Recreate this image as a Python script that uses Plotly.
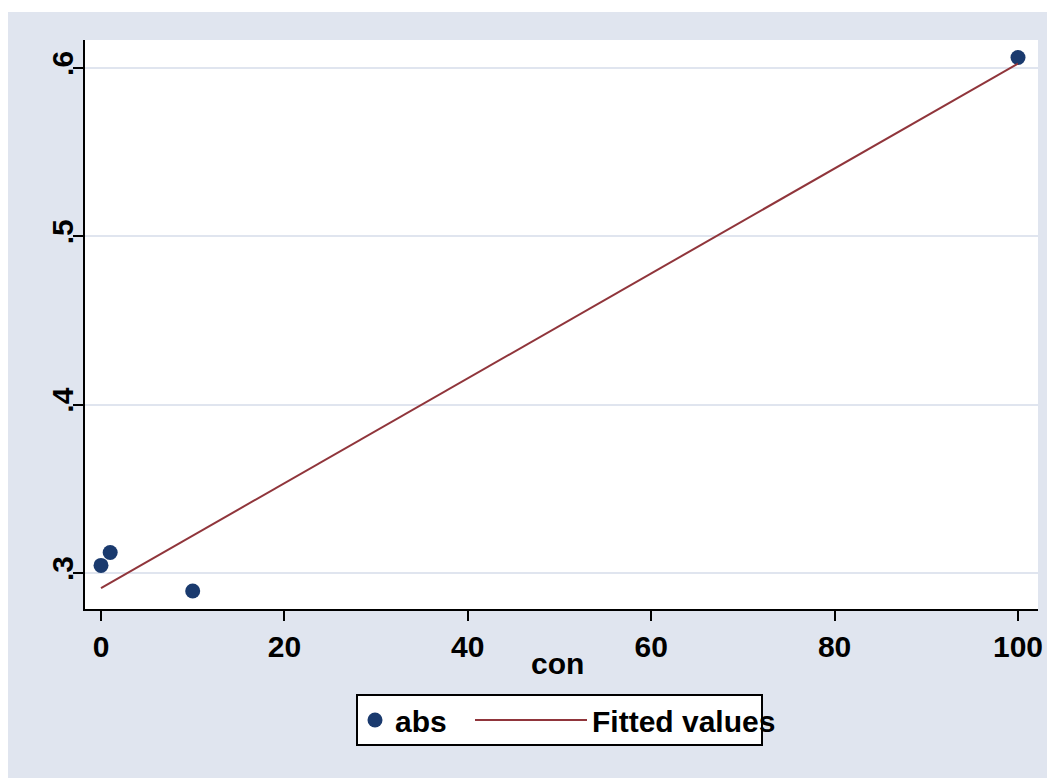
import plotly.graph_objects as go

# Data
con = [0, 1, 10, 100]
absorb = [0.3045, 0.3122, 0.2893, 0.6062]
fit_x = [0, 100]
fit_y = [0.2910, 0.6026]
x_ticks = [0, 20, 40, 60, 80, 100]
y_ticks = [0.3, 0.4, 0.5, 0.6]
y_tick_labels = [".3", ".4", ".5", ".6"]
x_title = "con"

BG = "#E0E5EF"
NAVY = "#1A3A6E"
MAROON = "#90353B"
FONT = dict(family="Liberation Sans, Arial, sans-serif", size=30, color="black", weight="bold")

W, H = 1047, 770
L, R, T, B = 77, 17, 32, 169
PW, PH = W - L - R, H - T - B


def px_x(p):
    return (p - 85) / PW


def px_y(p):
    return (609 - p) / PH


fig = go.Figure()
fig.add_trace(go.Scatter(x=con, y=absorb, mode="markers", name="abs", legend="legend",
                         marker=dict(color=NAVY, size=15, line=dict(width=0))))
fig.add_trace(go.Scatter(x=fit_x, y=fit_y, mode="lines", name="Fitted values", legend="legend2",
                         line=dict(color=MAROON, width=2)))

legend_common = dict(orientation="h", xanchor="left", yanchor="middle", y=px_y(720),
                     bgcolor="rgba(0,0,0,0)", borderwidth=0, font=FONT)

fig.update_layout(
    width=W, height=H,
    margin=dict(l=L, r=R, t=T, b=B),
    paper_bgcolor=BG, plot_bgcolor="white",
    font=FONT,
    showlegend=True,
    legend=dict(x=px_x(355), **legend_common),
    legend2=dict(x=px_x(552), **legend_common),
    xaxis=dict(range=[-1.745, 102.18], tickvals=x_ticks, showgrid=False, zeroline=False,
               showline=True, linecolor="black", linewidth=2, ticks="outside", ticklen=10,
               tickwidth=2, tickcolor="black", tickfont=FONT),
    yaxis=dict(range=[0.2786, 0.6166], tickvals=y_ticks, ticktext=y_tick_labels,
               showgrid=True, gridcolor=BG, gridwidth=2, zeroline=False,
               showline=True, linecolor="black", linewidth=2, ticks="outside", ticklen=10,
               tickwidth=2, tickcolor="black", tickfont=FONT, tickangle=-90,
               ticklabelstandoff=-12),
    annotations=[
        dict(text=x_title, xref="paper", yref="paper", x=px_x(557.5),
             y=px_y(663), xanchor="center", yanchor="middle",
             showarrow=False, font=FONT),
    ],
    shapes=[
        # white strip at the top of the page
        dict(type="rect", xref="paper", yref="paper", x0=-L / PW, x1=1 + R / PW,
             y0=1 + (T - 4) / PH, y1=1 + T / PH, fillcolor="white", line=dict(width=0)),
        # legend frame
        dict(type="rect", xref="paper", yref="paper", layer="below",
             x0=px_x(357), x1=px_x(762), y0=px_y(745), y1=px_y(695),
             fillcolor="white", line=dict(color="black", width=2)),
        # longer legend key for the fitted line
        dict(type="line", xref="paper", yref="paper", layer="below",
             x0=px_x(475), x1=px_x(565), y0=px_y(720), y1=px_y(720),
             line=dict(color=MAROON, width=2)),
    ],
)

fig.write_html("out.html")
